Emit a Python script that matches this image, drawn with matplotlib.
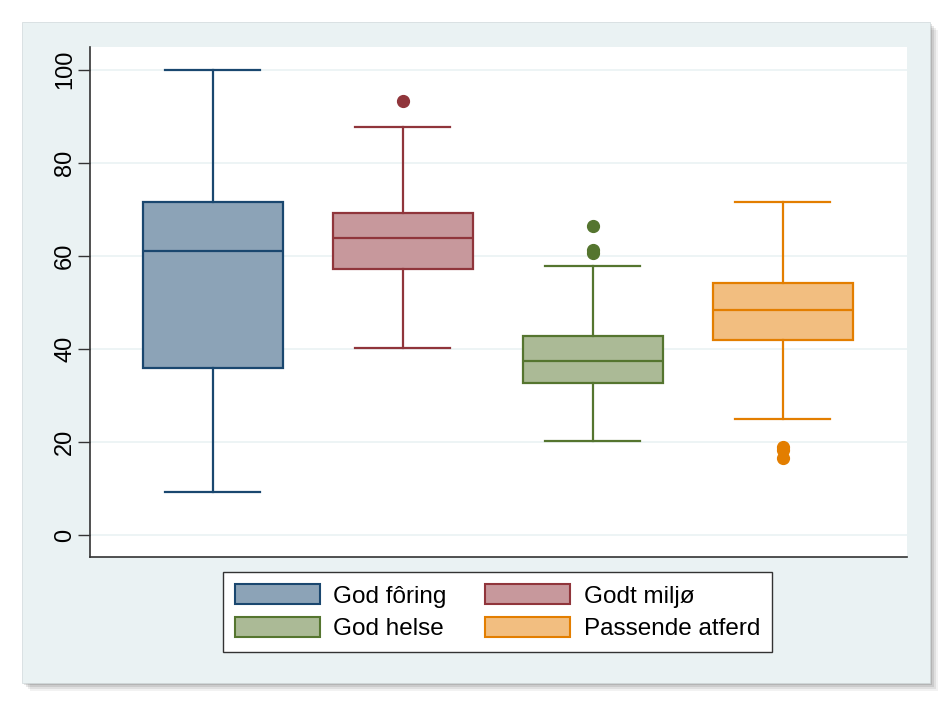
import matplotlib
matplotlib.use("Agg")
import matplotlib.pyplot as plt
from matplotlib.patches import Rectangle, Patch

plt.rcParams['font.family'] = ['Liberation Sans', 'DejaVu Sans']

# box plot summary values
labels = ['God fôring', 'Godt miljø', 'God helse', 'Passende atferd']
whislo = [9.2, 40.2, 20.2, 25.0]
q1 = [35.9, 57.2, 32.7, 41.9]
med = [61.1, 63.9, 37.4, 48.4]
q3 = [71.6, 69.2, 42.8, 54.1]
whishi = [100.0, 87.7, 57.8, 71.5]
fliers = [[], [93.3], [66.5, 61.3, 60.6], [19.0, 18.3, 16.5]]

edge_colors = ['#1a476f', '#90353b', '#55752f', '#e37e00']
fill_colors = ['#8ca3b7', '#c7989c', '#abba96', '#f2be80']
panel_color = '#eaf2f3'

fig = plt.figure(figsize=(9.53, 7.06), dpi=100)
fig.patch.set_facecolor('white')

# outer panel with a soft shadow
for i, a in enumerate([0.05, 0.07, 0.09, 0.11]):
    off = (4 - i) * 2
    fig.patches.append(Rectangle((22 / 953 + off / 953, 1 - (683 + off) / 706),
                                 908 / 953, 661 / 706, transform=fig.transFigure,
                                 facecolor='black', alpha=a, edgecolor='none', zorder=-3))
fig.patches.append(Rectangle((22 / 953, 1 - 683 / 706), 908 / 953, 661 / 706,
                             transform=fig.transFigure, facecolor=panel_color,
                             edgecolor='#d0d8da', linewidth=0.5, zorder=-2))

ax = fig.add_axes([90 / 953, 1 - 557 / 706, 817 / 953, 510 / 706])
ax.set_facecolor('white')

positions = [1, 2, 3, 4]
for i in range(4):
    stats = [dict(whislo=whislo[i], q1=q1[i], med=med[i], q3=q3[i],
                  whishi=whishi[i], fliers=fliers[i])]
    ec = edge_colors[i]
    ax.bxp(stats, positions=[positions[i]], widths=0.74, patch_artist=True,
           boxprops=dict(facecolor=fill_colors[i], edgecolor=ec, linewidth=1.6),
           medianprops=dict(color=ec, linewidth=1.6),
           whiskerprops=dict(color=ec, linewidth=1.6),
           capprops=dict(color=ec, linewidth=1.6),
           capwidths=0.5,
           flierprops=dict(marker='o', markerfacecolor=ec, markeredgecolor=ec,
                           markersize=8.5))

ax.set_xlim(0.353, 4.653)
ax.set_ylim(-4.7, 104.9)
ax.set_xticks([])
ax.set_yticks([0, 20, 40, 60, 80, 100])
ax.tick_params(axis='y', direction='out', length=9, width=1, colors='#333333',
               labelsize=17, labelcolor='black', pad=1)
for t in ax.get_yticklabels():
    t.set_rotation(90)
    t.set_va('center')
ax.yaxis.grid(True, color=panel_color, linewidth=1.2)
ax.set_axisbelow(True)
for s in ['top', 'right']:
    ax.spines[s].set_visible(False)
for s in ['left', 'bottom']:
    ax.spines[s].set_color('#333333')
    ax.spines[s].set_linewidth(1.2)

handles = [Patch(facecolor=fill_colors[i], edgecolor=edge_colors[i], linewidth=1.5)
           for i in range(4)]
order = [0, 2, 1, 3]
leg = fig.legend([handles[i] for i in order], [labels[i] for i in order],
                 loc='center', bbox_to_anchor=(0.522, 0.133), ncol=2,
                 fontsize=17.5, frameon=True, fancybox=False, edgecolor='#333333',
                 framealpha=1, facecolor='white',
                 handlelength=3.5, handleheight=0.9, handletextpad=0.55,
                 columnspacing=1.6, labelspacing=0.37, borderpad=0.5)
leg.get_frame().set_linewidth(1.0)

fig.savefig('out.png', dpi=100, facecolor='white')
